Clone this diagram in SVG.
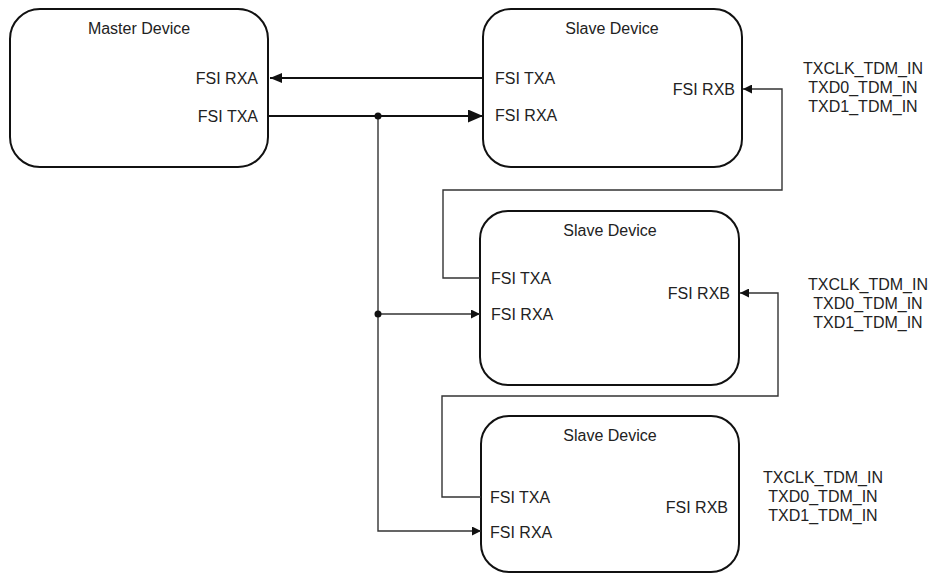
<svg xmlns="http://www.w3.org/2000/svg" width="930" height="573" viewBox="0 0 930 573">
<defs>
<style>
.box{fill:#fff;stroke:#111;stroke-width:2}
.t{font-family:"Liberation Sans",Arial,sans-serif;font-size:16px;fill:#222}
.m{text-anchor:middle}
.e{text-anchor:end}
.w{fill:none;stroke:#111;stroke-width:1.8}
.l{fill:none;stroke:#333;stroke-width:1.4}
</style>
<marker id="big" viewBox="0 0 15 13" refX="15" refY="6.5" markerWidth="15" markerHeight="13" markerUnits="userSpaceOnUse" orient="auto"><path d="M0,0 L15,6.5 L0,13 Z" fill="#111"/></marker>
<marker id="mid" viewBox="0 0 12 10" refX="12" refY="5" markerWidth="12" markerHeight="10" markerUnits="userSpaceOnUse" orient="auto"><path d="M0,0 L12,5 L0,10 Z" fill="#111"/></marker>
<marker id="sm" viewBox="0 0 9 9" refX="9" refY="4.5" markerWidth="9" markerHeight="9" markerUnits="userSpaceOnUse" orient="auto"><path d="M0,0 L9,4.5 L0,9 Z" fill="#111"/></marker>
</defs>
<rect width="930" height="573" fill="#fff"/>
<g id="master">
<rect class="box" x="10" y="9" width="258" height="158" rx="30" ry="30"/>
<text class="t m" x="139" y="34">Master Device</text>
<text class="t e" x="258" y="84">FSI RXA</text>
<text class="t e" x="258" y="122">FSI TXA</text>
</g>
<g id="slave1">
<rect class="box" x="483" y="9" width="259" height="158" rx="28" ry="28"/>
<text class="t m" x="612" y="34">Slave Device</text>
<text class="t" x="495" y="84">FSI TXA</text>
<text class="t" x="495" y="121">FSI RXA</text>
<text class="t e" x="735" y="95">FSI RXB</text>
</g>
<g id="slave2">
<rect class="box" x="480" y="211" width="259" height="174" rx="28" ry="28"/>
<text class="t m" x="610" y="236">Slave Device</text>
<text class="t" x="491" y="284">FSI TXA</text>
<text class="t" x="491" y="320">FSI RXA</text>
<text class="t e" x="730" y="299">FSI RXB</text>
</g>
<g id="slave3">
<rect class="box" x="481" y="416" width="258" height="156" rx="28" ry="28"/>
<text class="t m" x="610" y="441">Slave Device</text>
<text class="t" x="490" y="503">FSI TXA</text>
<text class="t" x="490" y="538">FSI RXA</text>
<text class="t e" x="728" y="513">FSI RXB</text>
</g>
<g id="labels1">
<text class="t m" x="863" y="74">TXCLK_TDM_IN</text>
<text class="t m" x="863" y="93">TXD0_TDM_IN</text>
<text class="t m" x="863" y="112">TXD1_TDM_IN</text>
</g>
<g id="labels2">
<text class="t m" x="868" y="290">TXCLK_TDM_IN</text>
<text class="t m" x="868" y="309">TXD0_TDM_IN</text>
<text class="t m" x="868" y="328">TXD1_TDM_IN</text>
</g>
<g id="labels3">
<text class="t m" x="823" y="483">TXCLK_TDM_IN</text>
<text class="t m" x="823" y="502">TXD0_TDM_IN</text>
<text class="t m" x="823" y="521">TXD1_TDM_IN</text>
</g>
<g id="connectors">
<path class="w" d="M483,78 H270" marker-end="url(#mid)"/>
<path class="w" d="M268,116 H483" marker-end="url(#big)"/>
<path class="l" d="M378,116 V531 H481" marker-end="url(#sm)"/>
<path class="l" d="M378,314 H480" marker-end="url(#sm)"/>
<circle cx="378" cy="116" r="3.5" fill="#111"/>
<circle cx="378" cy="314" r="3.5" fill="#111"/>
<path class="l" d="M480,278 H443 V190 H782 V89 H743" marker-end="url(#sm)"/>
<path class="l" d="M481,497 H442 V396 H778 V293 H740" marker-end="url(#sm)"/>
</g>
</svg>
